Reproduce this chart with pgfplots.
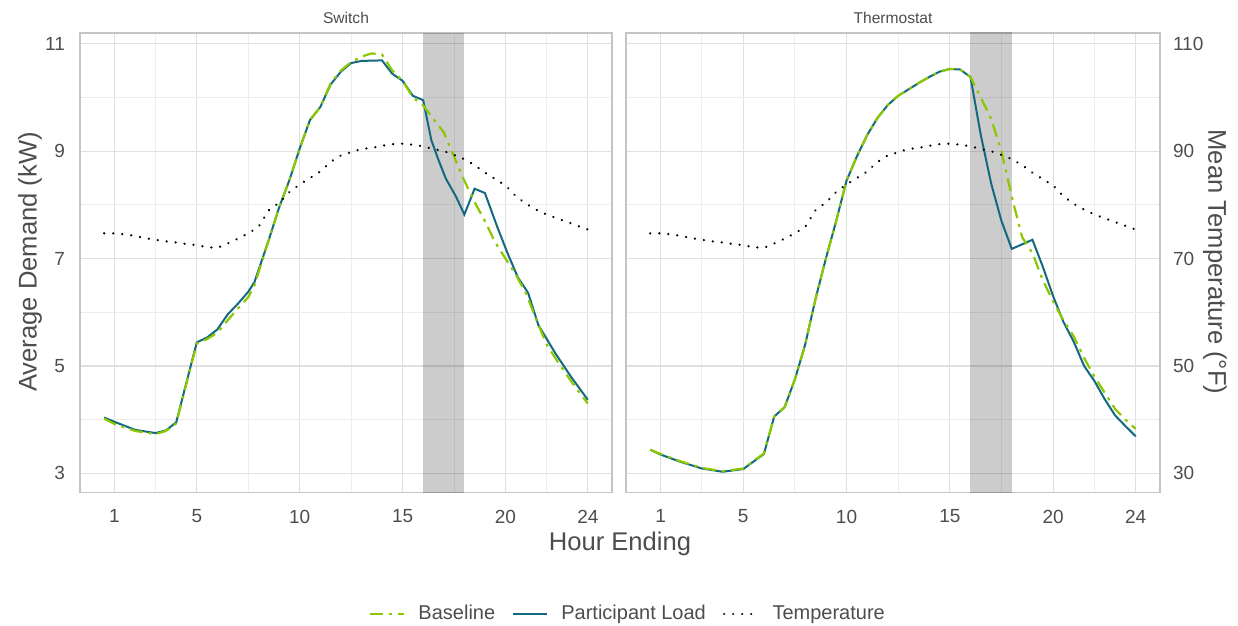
\documentclass[border=0pt]{standalone}
\usepackage{fontspec}
\setmainfont{Liberation Sans}
\usepackage{pgfplots}
\pgfplotsset{compat=1.18}
\usepackage{pgfplotstable}
\definecolor{teal1}{HTML}{136A80}
\definecolor{lime1}{HTML}{8CC800}
\definecolor{txt}{HTML}{4D4D4D}
\definecolor{gridmaj}{HTML}{E0E0E0}
\definecolor{gridmin}{HTML}{EDEDED}
\definecolor{bordc}{HTML}{C4C4C4}

\pgfplotstableread{
h T
0.5 74.7
1 74.7
1.5 74.5
2 74.2
2.5 73.8
3 73.5
3.5 73.2
4 73.0
4.5 72.7
5 72.5
5.5 72.1
6 72.0
6.5 72.8
7 73.7
7.5 74.7
8 75.9
8.5 79.0
9 80.4
9.5 82.4
10 83.8
10.5 85.0
11 86.2
11.5 88.0
12 89.2
12.5 89.8
13 90.4
13.5 90.6
14 91.0
14.5 91.3
15 91.4
15.5 91.2
16 90.9
16.5 90.4
17 90.0
17.5 89.3
18 88.5
18.5 87.4
19 86.0
19.5 84.8
20 83.6
20.5 81.6
21 80.2
21.5 79.1
22 78.2
22.5 77.5
23 76.8
23.5 76.1
24 75.4
}\temptable

\pgfplotstableread{
h kw
0.5 4.04
1 3.96
2 3.81
3 3.75
3.5 3.80
4 3.95
5 5.44
5.5 5.53
6 5.68
6.5 5.96
7 6.16
7.5 6.38
7.8 6.56
8.5 7.35
9 7.95
9.5 8.46
10 9.05
10.5 9.58
11 9.82
11.5 10.24
12 10.48
12.5 10.64
13 10.68
14 10.69
14.5 10.44
15 10.31
15.5 10.03
16 9.95
16.4 9.20
16.75 8.83
17.1 8.49
17.6 8.15
18 7.82
18.5 8.30
19 8.22
19.6 7.59
20.1 7.10
20.6 6.65
21.1 6.36
21.6 5.76
22.4 5.25
23.2 4.79
24 4.37
}\swload

\pgfplotstableread{
h kw
0.5 4.02
1 3.92
2 3.79
3 3.73
3.5 3.79
4 3.93
5 5.42
5.5 5.50
6 5.62
6.5 5.85
7 6.07
7.5 6.28
7.8 6.50
8.5 7.35
9 7.95
9.5 8.46
10 9.05
10.5 9.58
11 9.82
11.5 10.26
12 10.50
12.5 10.66
13 10.76
13.5 10.82
14 10.80
14.5 10.50
15 10.31
15.5 10.00
16 9.85
16.5 9.60
17 9.35
17.5 8.90
18 8.45
18.5 8.05
19 7.70
19.5 7.30
20 7.00
20.5 6.70
21 6.35
21.5 5.86
22 5.40
22.5 5.10
23 4.82
23.5 4.55
24 4.30
}\swbase

\pgfplotstableread{
h kw
0.5 3.44
1 3.35
2 3.21
3 3.09
4 3.03
5 3.08
6 3.36
6.5 4.06
7 4.23
7.5 4.75
8 5.40
8.5 6.25
9 7.00
9.5 7.70
10 8.45
10.5 8.90
11 9.30
11.5 9.62
12 9.86
12.5 10.03
13 10.15
13.5 10.27
14 10.38
14.5 10.48
15 10.53
15.5 10.52
16 10.38
16.5 9.30
17 8.40
17.5 7.70
18 7.18
19 7.35
19.5 6.85
20 6.30
20.5 5.82
21 5.45
21.5 5.00
22 4.72
22.5 4.38
23 4.08
23.5 3.88
24 3.69
}\thload

\pgfplotstableread{
h kw
0.5 3.44
1 3.36
2 3.22
3 3.10
4 3.04
5 3.09
6 3.37
6.5 4.06
7 4.23
7.5 4.75
8 5.40
8.5 6.25
9 7.00
9.5 7.70
10 8.45
10.5 8.90
11 9.30
11.5 9.62
12 9.86
12.5 10.03
13 10.15
13.5 10.27
14 10.38
14.5 10.48
15 10.53
15.5 10.52
16 10.38
16.5 10.00
17 9.60
17.5 9.00
18 8.15
18.5 7.40
19 7.10
19.5 6.60
20 6.20
20.5 5.85
21 5.55
21.5 5.15
22 4.80
22.5 4.50
23 4.20
23.5 4.00
24 3.83
}\thbase

\pgfplotsset{
  panel/.style={
    scale only axis, width=266pt, height=229.85pt,
    xmin=-0.675, xmax=25.175, ymin=2.64, ymax=11.2,
    xtick={1,5,10,15,20,24}, minor xtick={3,7.5,12.5,17.5,22},
    ytick={3,5,7,9,11}, minor ytick={4,6,8,10},
    grid=both,
    major grid style={gridmaj, line width=0.55pt},
    minor grid style={gridmin, line width=0.45pt},
    axis line style={bordc, line width=0.55pt},
    major tick length=0pt, minor tick length=0pt,
    tick label style={font=\fontsize{9.5}{11}\selectfont, text=txt},
    xticklabel style={yshift=-5pt},
    /pgf/number format/assume math mode=true,
    every axis title shift=0pt,
    title style={font=\fontsize{7.8}{9}\selectfont, text=txt, at={(0.5,1)}, anchor=center, yshift=7.5pt},
  },
  shade/.style={draw=none, fill=black, fill opacity=0.2, forget plot},
  loadst/.style={teal1, line width=1pt},
  basest/.style={lime1, line width=1.1pt, dash pattern=on 6.5pt off 3pt on 1.5pt off 3pt},
  tempst/.style={black, line width=1.25pt, line cap=round, dash pattern=on 0.01pt off 4.5pt},
}

\begin{document}
\begin{tikzpicture}
\path[use as bounding box] (0,0) rectangle (619pt,313pt);

\begin{axis}[panel, at={(40pt,66.65pt)}, anchor=south west, title={Switch},
  yticklabel style={xshift=-4pt},
  legend columns=3,
  legend style={at={(1.0319,-0.2640)}, anchor=center, draw=none, fill=none,
    font=\fontsize{10}{12}\selectfont, text=txt,
    /tikz/every odd column/.append style={column sep=4.5pt},
    /tikz/every even column/.append style={column sep=6.5pt}},
  ]
  \addplot[shade] coordinates {(16,0) (18,0) (18,20) (16,20)} -- cycle;
  \addplot[loadst, forget plot] table[x=h, y=kw] {\swload};
  \addplot[basest, forget plot] table[x=h, y=kw] {\swbase};
  \addplot[tempst, forget plot] table[x=h, y expr=\thisrow{T}/10] {\temptable};
  \addlegendimage{basest}
  \addlegendentry{Baseline}
  \addlegendimage{loadst}
  \addlegendentry{Participant Load}
  \addlegendimage{tempst}
  \addlegendentry{Temperature}
\end{axis}

\begin{axis}[panel, at={(313pt,66.65pt)}, anchor=south west, width=267pt, title={Thermostat},
  yticklabel pos=right, yticklabels={30,50,70,90,110},
  yticklabel style={xshift=3pt}]
  \addplot[shade] coordinates {(16,0) (18,0) (18,20) (16,20)} -- cycle;
  \addplot[loadst] table[x=h, y=kw] {\thload};
  \addplot[basest] table[x=h, y=kw] {\thbase};
  \addplot[tempst] table[x=h, y expr=\thisrow{T}/10] {\temptable};
\end{axis}

\node[font=\fontsize{12.8}{15}\selectfont, text=txt] at (310pt,41pt) {Hour Ending};
\node[font=\fontsize{12.8}{15}\selectfont, text=txt, rotate=90] at (15pt,182pt) {Average Demand (kW)};
\node[font=\fontsize{12.8}{15}\selectfont, text=txt, rotate=-90] at (607.5pt,182pt) {Mean Temperature (°F)};
\end{tikzpicture}
\end{document}
